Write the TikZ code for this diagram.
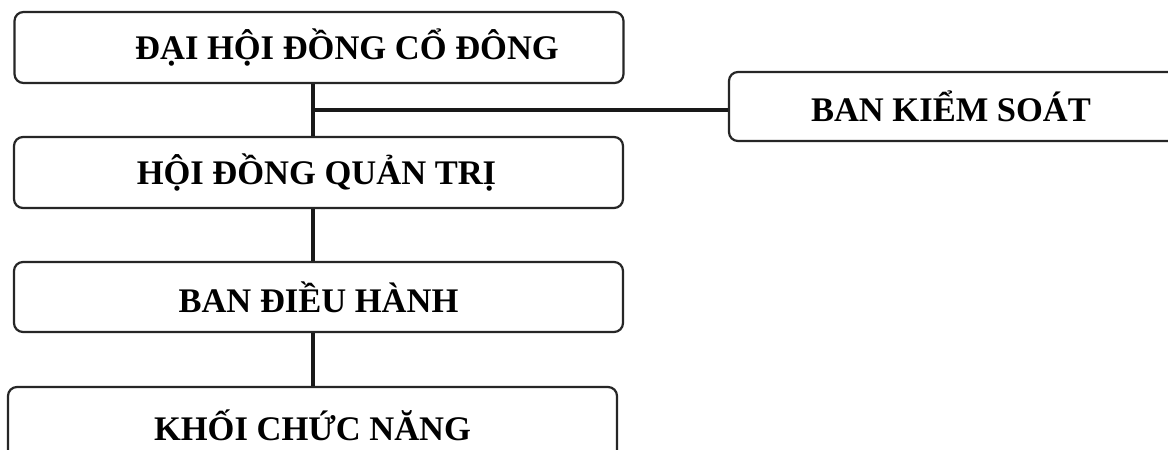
\documentclass[tikz,border=0pt]{standalone}
\usepackage{fontspec}
\setmainfont{Liberation Serif}
\begin{document}
\begin{tikzpicture}[x=1pt,y=-1pt,
  orgbox/.style={draw=black!85,line width=2.2pt,rounded corners=9pt,fill=white,
    inner sep=0pt,font=\fontsize{34.5}{38}\selectfont\bfseries},
  link/.style={draw=black!90,line width=3.2pt}]
\useasboundingbox (0,0) rectangle (1168,450);
\clip (0,0) rectangle (1168,450);
\fill[white] (0,0) rectangle (1168,450);
\coordinate (j) at (313,110);
\node[orgbox,minimum width=609pt,minimum height=71pt] (dhdcd) at (319,47.5) {\hspace*{56pt}ĐẠI HỘI ĐỒNG CỔ ĐÔNG};
\node[orgbox,minimum width=609pt,minimum height=71pt] (hdqt) at (318.5,172.5) {\hspace*{-4pt}HỘI ĐỒNG QUẢN TRỊ};
\node[orgbox,minimum width=609pt,minimum height=70pt] (bdh) at (318.5,297) {BAN ĐIỀU HÀNH};
\node[orgbox,minimum width=609pt,minimum height=76pt] (kcn) at (312.5,425) {KHỐI CHỨC NĂNG};
\node[orgbox,minimum width=461pt,minimum height=69pt] (bks) at (959.5,106.5) {\hspace*{-17pt}BAN KIỂM SOÁT};
\draw[link] (dhdcd.south -| j) -- (hdqt.north -| j);
\draw[link] (j) -- (bks.west |- j);
\draw[link] (hdqt.south -| j) -- (bdh.north -| j);
\draw[link] (bdh.south -| j) -- (kcn.north -| j);
\end{tikzpicture}
\end{document}
